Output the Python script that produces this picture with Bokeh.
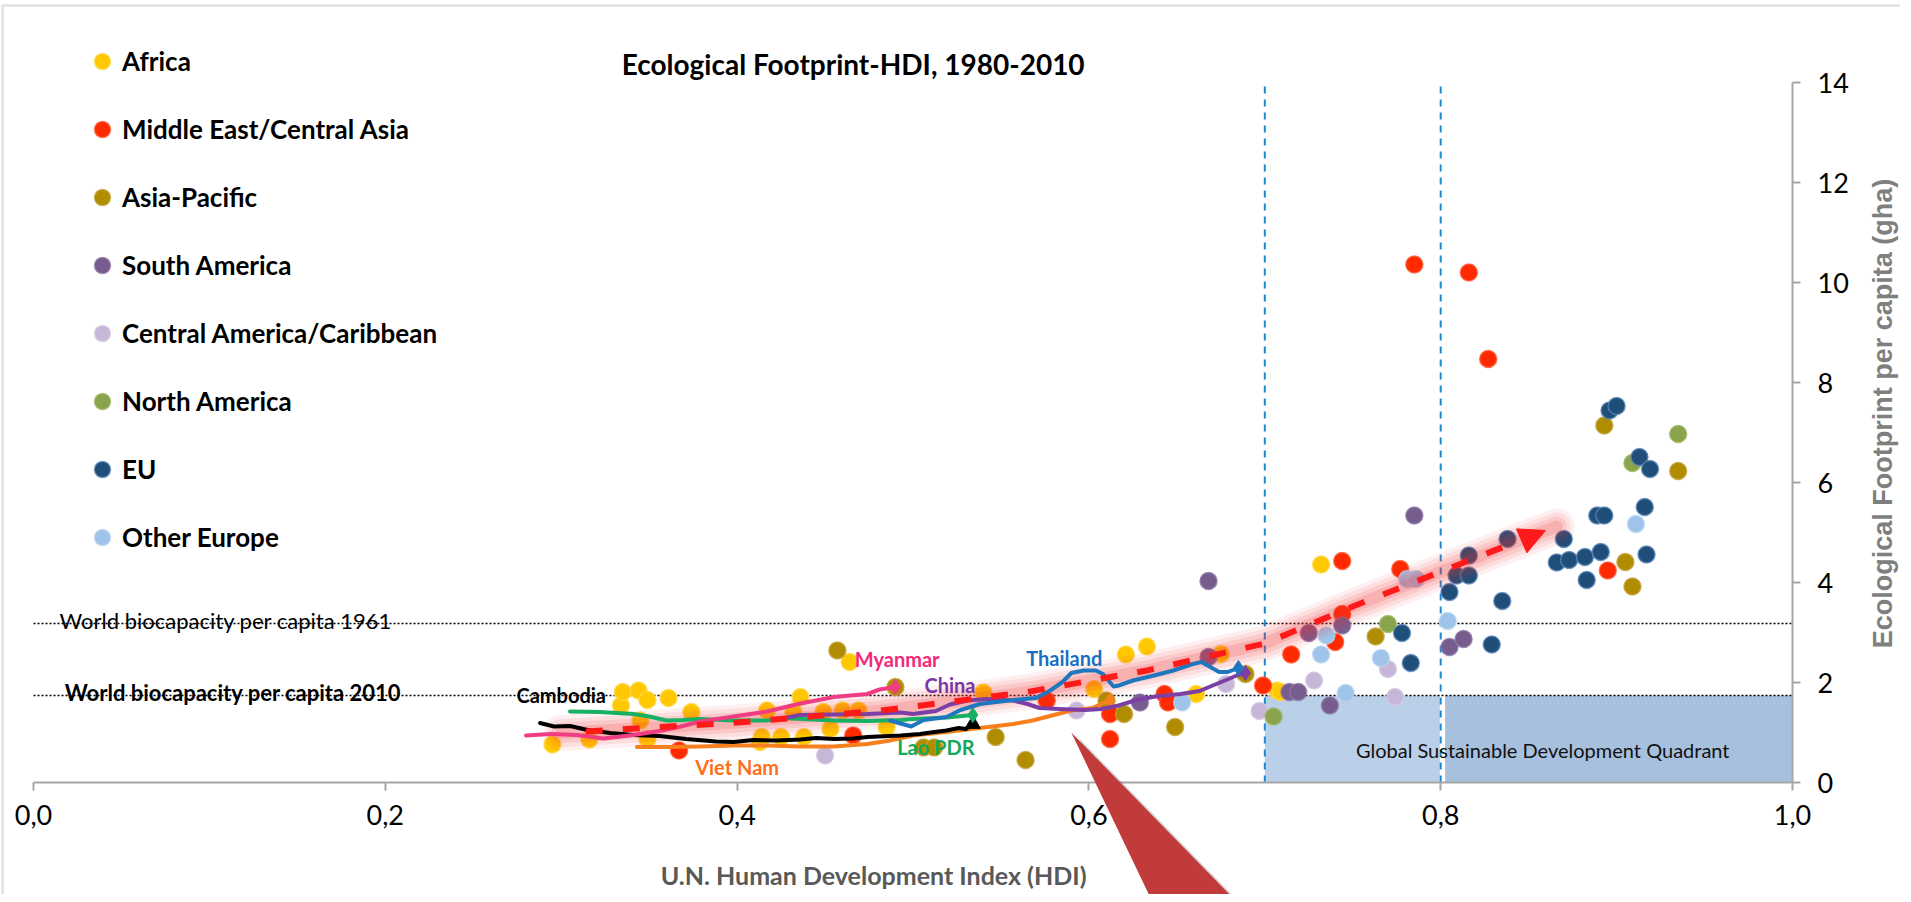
import math
from bokeh.plotting import figure
from bokeh.models import (Range1d, FixedTicker, CustomJSTickFormatter, BoxAnnotation,
                          Label, Legend, LegendItem, PolyAnnotation, Arrow, NormalHead)
from bokeh.core.properties import value
from bokeh.embed import file_html
from bokeh.resources import INLINE

# ---------------- data ----------------
regions = ["Africa", "Middle East/Central Asia", "Asia-Pacific", "South America",
           "Central America/Caribbean", "North America", "EU", "Other Europe"]
region_colors = ["#ffc800", "#ff2a00", "#b08c00", "#765d8e", "#c6b6d8", "#8aa44c", "#1f4e79", "#9fc4ea"]
region_edges = ["#ffd84d", "#ff5a3a", "#c4a23a", "#8e78a6", "#d6cae4", "#9db865", "#5b86b8", "#b9d5f0"]

africa_hdi = [0.295, 0.316, 0.334, 0.335, 0.344, 0.349, 0.345, 0.349, 0.361, 0.374, 0.413, 0.414,
              0.417, 0.425, 0.432, 0.436, 0.438, 0.449, 0.453, 0.460, 0.464, 0.469, 0.485, 0.540,
              0.603, 0.621, 0.633, 0.661, 0.675, 0.707, 0.709, 0.732]
africa_ef = [0.76, 0.86, 1.54, 1.81, 1.84, 1.65, 1.24, 0.87, 1.69, 1.41, 0.81, 0.91,
             1.44, 0.91, 1.41, 1.71, 0.91, 1.41, 1.07, 1.44, 2.41, 1.44, 1.11, 1.80,
             1.87, 2.56, 2.72, 1.77, 2.57, 1.84, 1.81, 4.36]
me_hdi = [0.367, 0.466, 0.576, 0.612, 0.612, 0.643, 0.645, 0.699, 0.715, 0.740, 0.744, 0.744,
          0.777, 0.785, 0.816, 0.827, 0.895]
me_ef = [0.64, 0.94, 1.64, 1.37, 0.87, 1.77, 1.60, 1.94, 2.56, 2.81, 3.37, 4.43,
         4.27, 10.36, 10.20, 8.47, 4.24]
ap_hdi = [0.457, 0.490, 0.506, 0.512, 0.547, 0.564, 0.610, 0.620, 0.649, 0.689, 0.763, 0.893,
          0.905, 0.909, 0.935]
ap_ef = [2.64, 1.91, 0.70, 0.70, 0.91, 0.45, 1.64, 1.37, 1.11, 2.17, 2.92, 7.14,
         4.41, 3.92, 6.23]
sa_hdi = [0.629, 0.668, 0.668, 0.714, 0.719, 0.725, 0.737, 0.744, 0.785, 0.805, 0.813]
sa_ef = [1.60, 2.51, 4.03, 1.81, 1.81, 2.99, 1.54, 3.14, 5.34, 2.71, 2.87]
ca_hdi = [0.450, 0.593, 0.678, 0.697, 0.728, 0.770, 0.774]
ca_ef = [0.54, 1.44, 1.97, 1.43, 2.04, 2.27, 1.71]
na_hdi = [0.705, 0.770, 0.909, 0.935]
na_ef = [1.32, 3.17, 6.39, 6.97]
eu_hdi = [0.778, 0.783, 0.805, 0.809, 0.816, 0.816, 0.829, 0.835, 0.838, 0.866, 0.870, 0.873,
          0.882, 0.883, 0.889, 0.893, 0.891, 0.896, 0.900, 0.913, 0.919, 0.916, 0.917]
eu_ef = [2.99, 2.39, 3.81, 4.14, 4.14, 4.54, 2.76, 3.63, 4.87, 4.40, 4.87, 4.45,
         4.51, 4.05, 5.34, 5.34, 4.61, 7.44, 7.53, 6.51, 6.27, 5.51, 4.56]
oe_hdi = [0.653, 0.732, 0.735, 0.746, 0.766, 0.781, 0.786, 0.804, 0.911]
oe_ef = [1.60, 2.56, 2.94, 1.79, 2.49, 4.07, 4.07, 3.23, 5.17]

region_hdi = [africa_hdi, me_hdi, ap_hdi, sa_hdi, ca_hdi, na_hdi, eu_hdi, oe_hdi]
region_ef = [africa_ef, me_ef, ap_ef, sa_ef, ca_ef, na_ef, eu_ef, oe_ef]

# country trajectories 1980-2010
countries = ["Viet Nam", "Cambodia", "Lao PDR", "China", "Thailand", "Myanmar"]
country_colors = ["#f7801e", "#000000", "#17b065", "#7b3fa5", "#1f78bf", "#f03c82"]
country_end_marker = ["diamond", "triangle", "diamond", "diamond", "diamond", "diamond"]
vietnam_hdi = [0.343, 0.360, 0.379, 0.398, 0.417, 0.436, 0.455, 0.474, 0.487, 0.500, 0.519, 0.538,
               0.557, 0.568, 0.579, 0.590, 0.602, 0.607, 0.612]
vietnam_ef = [0.71, 0.71, 0.72, 0.74, 0.74, 0.72, 0.72, 0.77, 0.84, 0.94, 1.01, 1.09,
              1.17, 1.24, 1.34, 1.44, 1.49, 1.57, 1.64]
cambodia_hdi = [0.288, 0.296, 0.305, 0.315, 0.328, 0.341, 0.356, 0.371, 0.388, 0.398, 0.409, 0.422,
                0.436, 0.445, 0.455, 0.466, 0.474, 0.493, 0.504, 0.512, 0.519, 0.526, 0.530, 0.534]
cambodia_ef = [1.19, 1.12, 1.13, 1.05, 0.99, 0.95, 0.93, 0.87, 0.82, 0.81, 0.85, 0.84,
               0.86, 0.89, 0.87, 0.88, 0.91, 0.94, 0.97, 1.01, 1.04, 1.09, 1.07, 1.17]
lao_hdi = [0.305, 0.322, 0.341, 0.350, 0.360, 0.369, 0.379, 0.398, 0.417, 0.426, 0.455, 0.474,
           0.493, 0.500, 0.519, 0.534]
lao_ef = [1.42, 1.41, 1.37, 1.32, 1.24, 1.25, 1.27, 1.24, 1.24, 1.29, 1.24, 1.23,
          1.25, 1.27, 1.30, 1.35]
china_hdi = [0.424, 0.436, 0.455, 0.474, 0.493, 0.500, 0.513, 0.521, 0.531, 0.542, 0.557, 0.565,
             0.572, 0.583, 0.598, 0.607, 0.617, 0.627, 0.638, 0.652, 0.663, 0.669, 0.678, 0.684, 0.689]
china_ef = [1.27, 1.35, 1.36, 1.37, 1.40, 1.37, 1.43, 1.56, 1.64, 1.67, 1.64, 1.57,
            1.49, 1.47, 1.45, 1.47, 1.54, 1.65, 1.72, 1.77, 1.83, 1.92, 2.05, 2.14, 2.19]
thailand_hdi = [0.487, 0.499, 0.506, 0.519, 0.527, 0.538, 0.557, 0.570, 0.578, 0.585, 0.590, 0.597,
                0.604, 0.608, 0.614, 0.617, 0.625, 0.637, 0.648, 0.659, 0.664, 0.669, 0.674, 0.679, 0.685]
thailand_ef = [1.24, 1.12, 1.25, 1.31, 1.45, 1.57, 1.65, 1.69, 1.84, 2.01, 2.19, 2.24,
               2.24, 2.17, 1.92, 1.94, 2.04, 2.14, 2.24, 2.37, 2.41, 2.31, 2.21, 2.21, 2.29]
myanmar_hdi = [0.280, 0.294, 0.309, 0.324, 0.341, 0.356, 0.368, 0.379, 0.398, 0.417, 0.436, 0.455,
               0.474, 0.481, 0.490]
myanmar_ef = [0.94, 0.97, 0.95, 0.88, 0.95, 1.03, 1.12, 1.22, 1.32, 1.42, 1.58, 1.71,
              1.77, 1.86, 1.91]
country_hdi = [vietnam_hdi, cambodia_hdi, lao_hdi, china_hdi, thailand_hdi, myanmar_hdi]
country_ef = [vietnam_ef, cambodia_ef, lao_ef, china_ef, thailand_ef, myanmar_ef]

label_names = ["Cambodia", "Myanmar", "China", "Thailand", "Lao PDR", "Viet Nam"]
label_hdi = [0.300, 0.491, 0.521, 0.586, 0.513, 0.400]
label_ef = [1.76, 2.48, 1.96, 2.49, 0.72, 0.32]
label_colors = ["#000000", "#f5287a", "#7a35a8", "#1b6fc0", "#14a85a", "#ff6f1a"]

biocap_values = [3.18, 1.74]
biocap_labels = ["World biocapacity per capita 1961", "World biocapacity per capita 2010"]
hdi_thresholds = [0.7, 0.8]

trend_hdi = [0.314, 0.400, 0.480, 0.565, 0.633, 0.700, 0.750, 0.842]
trend_ef = [1.02, 1.20, 1.43, 1.81, 2.24, 2.78, 3.52, 4.80]
glow_hdi = [0.300, 0.400, 0.480, 0.565, 0.633, 0.700, 0.750, 0.842, 0.866]
glow_ef = [0.99, 1.20, 1.43, 1.81, 2.24, 2.78, 3.52, 4.80, 5.12]

callout_hdi = [0.590, 0.639, 0.690]
callout_ef = [1.0, -2.6, -2.6]

x_ticks = [0.0, 0.2, 0.4, 0.6, 0.8, 1.0]
y_ticks = [0, 2, 4, 6, 8, 10, 12, 14]

# ---------------- figure ----------------
# frame covers the whole canvas; axes are pinned at data positions
W, H = 1900, 894
X0, XS = 33.0, 1759.0      # canvas x of hdi 0, px per hdi unit
Y0, YS = 782.0, 50.0       # canvas y of ef 0, px per ef unit
p = figure(width=W, height=H,
           x_range=Range1d(-X0 / XS, (W - X0) / XS),
           y_range=Range1d((Y0 - H) / YS, Y0 / YS),
           output_backend="svg", toolbar_location=None, y_axis_location="right",
           min_border=0, min_border_left=0, min_border_right=0, min_border_top=0, min_border_bottom=0)
p.title.text = ""
p.title.visible = False
p.grid.visible = False
p.outline_line_color = None
p.background_fill_color = "white"
p.border_fill_color = "white"

for ax in (p.xaxis[0], p.yaxis[0]):
    ax.axis_line_color = "#a6a6a6"
    ax.axis_line_width = 2
    ax.major_tick_line_color = "#a6a6a6"
    ax.major_tick_line_width = 2
    ax.major_tick_in = 0
    ax.major_tick_out = 8
    ax.minor_tick_line_color = None
    ax.major_label_text_font = "Lato"
    ax.major_label_text_font_size = "27px"
    ax.major_label_text_color = "#000000"
p.xaxis.fixed_location = 0
p.xaxis.bounds = (0, 1)
p.xaxis.ticker = FixedTicker(ticks=x_ticks)
p.xaxis.formatter = CustomJSTickFormatter(code="return tick.toFixed(1).replace('.', ',');")
p.xaxis.major_label_standoff = 14
p.yaxis.fixed_location = 1.0
p.yaxis.bounds = (0, 14)
p.yaxis.ticker = FixedTicker(ticks=y_ticks)
p.yaxis.major_label_standoff = 17

# chart border (top / left edges)
p.add_layout(BoxAnnotation(left=-0.0176, right=2.0, bottom=-10, top=15.54, fill_alpha=0,
                           line_color="#a0a0a0", line_width=2.5, level="underlay"))

# quadrant
p.add_layout(BoxAnnotation(left=hdi_thresholds[0], right=hdi_thresholds[1] - 0.0005, bottom=0, top=biocap_values[1],
                           fill_color="#b9d0e8", fill_alpha=1, line_color=None, level="underlay"))
p.add_layout(BoxAnnotation(left=hdi_thresholds[1] + 0.0025, right=1.0, bottom=0, top=biocap_values[1],
                           fill_color="#a6c0de", fill_alpha=1, line_color=None, level="underlay"))
p.segment(x0=[0, 0], y0=biocap_values, x1=[1, 1], y1=biocap_values,
          line_color="#000000", line_dash="2 2", line_width=1.5)
p.segment(x0=hdi_thresholds, y0=[0, 0], x1=hdi_thresholds, y1=[14, 14],
          line_color="#1a8ad4", line_dash="7 6", line_width=2)

# scatter points
renderers = []
for name, xs, ys, c, e in zip(regions, region_hdi, region_ef, region_colors, region_edges):
    r = p.scatter(xs, ys, size=17, fill_color=c, line_color=e, line_width=1.5, line_alpha=0.8)
    renderers.append(r)

# glow behind trend
for w, a in [(36, 0.07), (28, 0.09), (20, 0.12), (12, 0.16)]:
    p.line(glow_hdi, glow_ef, line_color="#f03030", line_width=w, line_alpha=a, line_cap="round", line_join="round")

# country trajectories
for xs, ys, c, m in zip(country_hdi, country_ef, country_colors, country_end_marker):
    p.line(xs, ys, line_color=c, line_width=4, line_join="round", line_cap="round")
    p.scatter([xs[-1]], [ys[-1]], marker=m, size=15, fill_color=c, line_color=c)

# trend dashed line and head
p.line(trend_hdi, trend_ef, line_color="#ff1a1a", line_width=6, line_dash="17 20")
p.add_layout(Arrow(end=NormalHead(size=26, fill_color="#ff1a1a", line_color="#ff1a1a"),
                   x_start=0.8465, y_start=4.84, x_end=0.8596, y_end=5.04, line_alpha=0))

# country labels
p.text(label_hdi, label_ef, text=label_names, text_color=label_colors, text_font=value("Lato"),
       text_font_style="bold", text_font_size="20px", text_align="center", text_baseline="middle")

# callout triangle
p.add_layout(PolyAnnotation(xs=[x + 0.004 for x in callout_hdi], ys=[y - 0.1 for y in callout_ef],
                            fill_color="#7a7a7a", fill_alpha=0.35, line_color=None, level="overlay"))
p.add_layout(PolyAnnotation(xs=callout_hdi, ys=callout_ef, fill_color="#c23b3b", fill_alpha=1,
                            line_color=None, level="overlay"))

# texts
p.add_layout(Label(x=0.0148, y=biocap_values[0] + 0.06, text=biocap_labels[0], text_font="Lato",
                   text_font_size="22px", text_color="#000000", text_baseline="alphabetic"))
p.add_layout(Label(x=0.0178, y=biocap_values[1] + 0.06, text=biocap_labels[1], text_font="Lato",
                   text_font_style="bold", text_font_size="22px", text_color="#000000",
                   text_baseline="alphabetic"))
p.add_layout(Label(x=0.858, y=0.66, text="Global Sustainable Development Quadrant", text_font="Lato",
                   text_font_size="20px", text_color="#111111", text_align="center", text_baseline="middle"))
p.add_layout(Label(x=0.466, y=14.38, text="Ecological Footprint-HDI, 1980-2010", text_font="Lato",
                   text_font_style="bold", text_font_size="28px", text_color="#000000",
                   text_align="center", text_baseline="middle"))
p.add_layout(Label(x=0.4776, y=-1.84, text="U.N. Human Development Index (HDI)", text_font="Lato",
                   text_font_style="bold", text_font_size="25px", text_color="#595959",
                   text_align="center", text_baseline="middle"))
p.add_layout(Label(x=1.0517, y=7.38, text="Ecological Footprint per capita (gha)", angle=math.pi / 2,
                   text_font="Liberation Sans", text_font_style="bold", text_font_size="27px",
                   text_color="#7f7f7f", text_align="center", text_baseline="middle"))

legend = Legend(items=[LegendItem(label=n, renderers=[r]) for n, r in zip(regions, renderers)],
                location=(82, 337), orientation="vertical", glyph_width=40, glyph_height=40,
                label_standoff=0, spacing=28, padding=0, margin=0, label_height=40,
                background_fill_alpha=0, border_line_color=None, label_text_color="#000000",
                label_text_font="Lato", label_text_font_style="bold", label_text_font_size="26px")
p.add_layout(legend)

open("out.html", "w").write(file_html(p, INLINE))
